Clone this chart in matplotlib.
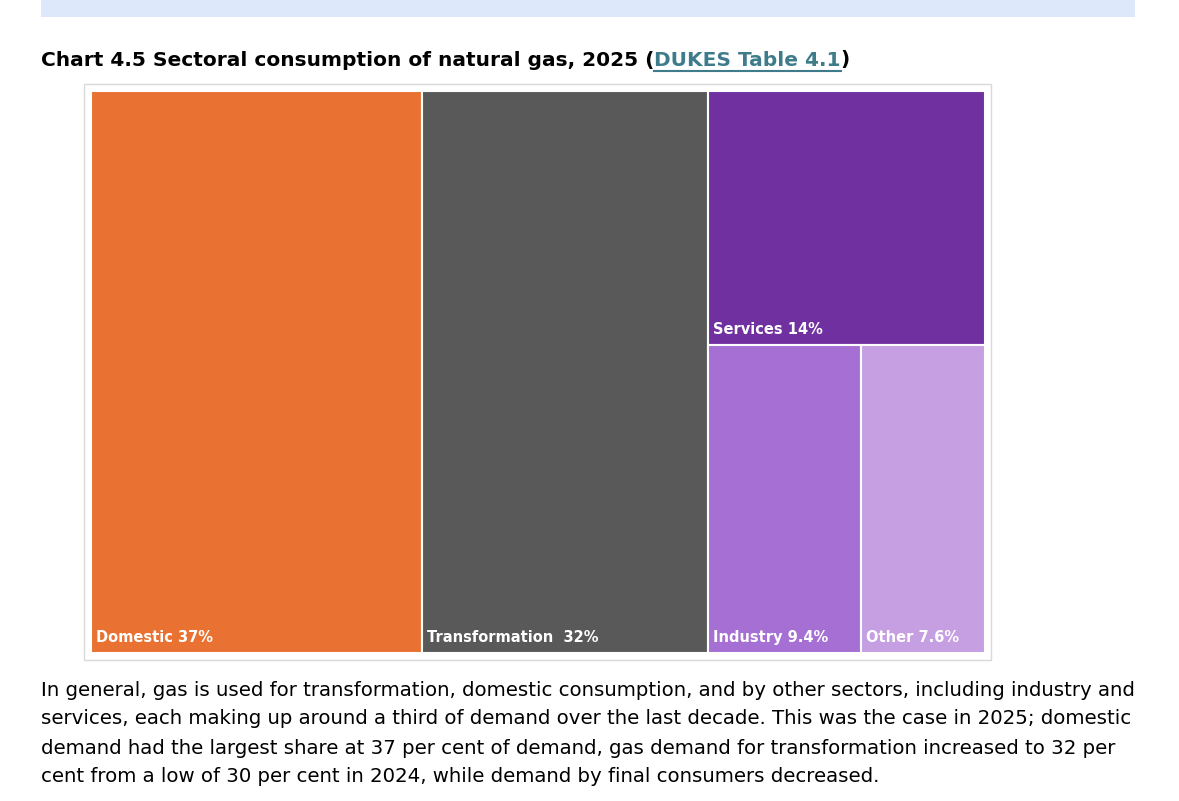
import matplotlib
matplotlib.use("Agg")
import matplotlib.pyplot as plt
from matplotlib.patches import Rectangle

# data
sectors = ["Domestic", "Transformation", "Services", "Industry", "Other"]
shares = [37, 32, 14, 9.4, 7.6]
labels = ["Domestic 37%", "Transformation  32%", "Services 14%", "Industry 9.4%", "Other 7.6%"]
colors = ["#E97132", "#595959", "#7030A0", "#A66FD4", "#C59FE2"]

body = [
    "In general, gas is used for transformation, domestic consumption, and by other sectors, including industry and",
    "services, each making up around a third of demand over the last decade. This was the case in 2025; domestic",
    "demand had the largest share at 37 per cent of demand, gas demand for transformation increased to 32 per",
    "cent from a low of 30 per cent in 2024, while demand by final consumers decreased.",
]

W, H = 1179, 801
fig = plt.figure(figsize=(W / 100, H / 100), dpi=100)
bg = fig.add_axes([0, 0, 1, 1])
bg.set_xlim(0, W)
bg.set_ylim(H, 0)
bg.axis("off")

# top band
bg.add_patch(Rectangle((41, 0), 1094, 17, color="#DDE9FB", lw=0))

# title with link
fig.canvas.draw()
r = fig.canvas.get_renderer()
x = 41
for txt, col in [("Chart 4.5 Sectoral consumption of natural gas, 2025 (", "black"),
                 ("DUKES Table 4.1", "#3E7C8C"), (")", "black")]:
    t = bg.text(x, 60, txt, fontsize=14.5, fontweight="bold", color=col, va="center", ha="left")
    bb = t.get_window_extent(r)
    if col != "black":
        bg.plot([x, x + bb.width], [71, 71], color=col, lw=1.5)
    x += bb.width

# chart frame
bg.add_patch(Rectangle((84, 84), 907, 576, fill=False, ec="#D9D9D9", lw=1))

# treemap layout (squarified by hand: two columns, then a split column)
x0, y0, w, h = 91, 91, 894, 562
total = sum(shares)
rects = []
cx = x0
for s in shares[:2]:
    cw = w * s / total
    rects.append((cx, y0, cw, h))
    cx += cw
rest = sum(shares[2:])
rw = x0 + w - cx
sh = h * shares[2] / rest
rects.append((cx, y0, rw, sh))
low = sum(shares[3:])
ix = cx
for s in shares[3:]:
    iw = rw * s / low
    rects.append((ix, y0 + sh, iw, h - sh))
    ix += iw

for (rx, ry, rw_, rh), c, lab in zip(rects, colors, labels):
    bg.add_patch(Rectangle((rx, ry), rw_, rh, fc=c, ec="white", lw=1.5))
    bg.text(rx + 5, ry + rh - 8, lab, color="white", fontsize=10.5,
            fontweight="bold", ha="left", va="bottom")

for i, line in enumerate(body):
    bg.text(41, 690 + 29 * i, line, fontsize=14.2, va="center", ha="left", color="black")

fig.savefig("out.png", dpi=100)
